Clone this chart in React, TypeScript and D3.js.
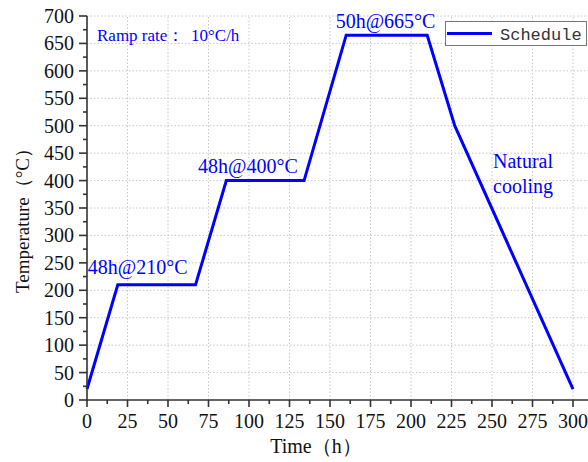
import React from "react";
import * as d3 from "d3";

const timeH = [0, 19, 67, 86, 134, 160, 210, 227, 300];
const tempC = [20, 210, 210, 400, 400, 665, 665, 500, 20];
const xTicks = [0, 25, 50, 75, 100, 125, 150, 175, 200, 225, 250, 275, 300];
const yTicks = [0, 50, 100, 150, 200, 250, 300, 350, 400, 450, 500, 550, 600, 650, 700];
const annotations = [
  { t: 0.5, v: 230, text: "48h@210°C" },
  { t: 68.5, v: 413, text: "48h@400°C" },
  { t: 153.5, v: 678, text: "50h@665°C" },
];
const seriesName = "Schedule";

export default function App() {
  const W = 588, H = 462;
  const x = d3.scaleLinear().domain([0, 300]).range([87, 573]);
  const y = d3.scaleLinear().domain([0, 700]).range([400, 16]);
  const xMax = 588;
  const data = timeH.map((t, i) => [t, tempC[i]] as [number, number]);
  const line = d3.line<[number, number]>().x(d => x(d[0])).y(d => y(d[1]));
  const xMinor = d3.range(12.5, 310, 25);
  const yMinor = d3.range(25, 700, 50);
  const xGrid = d3.range(25, 310, 25);
  const serif = "'Liberation Serif', 'Times New Roman', serif";
  const blue = "#0000ff";
  const axisCol = "#333";
  return (
    <svg width={W} height={H} style={{ position: "absolute", left: 0, top: 0, background: "#fff" }} fontFamily={serif}>
      <rect x={0} y={0} width={W} height={H} fill="#fff" />
      {/* grid */}
      <g stroke="#c8c8c8" strokeWidth={1} strokeDasharray="1.5,2">
        {xGrid.map(t => (
          <line key={"gx" + t} x1={x(t)} x2={x(t)} y1={y(0)} y2={y(700)} />
        ))}
        {yTicks.filter(v => v > 0).map(v => (
          <line key={"gy" + v} x1={x(0)} x2={xMax} y1={y(v)} y2={y(v)} />
        ))}
      </g>
      {/* series */}
      <path d={line(data) || ""} fill="none" stroke={blue} strokeWidth={3} strokeLinejoin="miter" />
      {/* axes */}
      <g stroke={axisCol} strokeWidth={1.6}>
        <line x1={x(0)} x2={xMax} y1={y(0)} y2={y(0)} />
        <line x1={x(0)} x2={x(0)} y1={y(0) + 0.8} y2={y(700)} />
        {xTicks.map(t => (
          <line key={"xt" + t} x1={x(t)} x2={x(t)} y1={y(0)} y2={y(0) + 7} />
        ))}
        {xMinor.map(t => (
          <line key={"xm" + t} x1={x(t)} x2={x(t)} y1={y(0)} y2={y(0) + 4} />
        ))}
        {yTicks.map(v => (
          <line key={"yt" + v} x1={x(0) - 8} x2={x(0)} y1={y(v)} y2={y(v)} />
        ))}
        {yMinor.map(v => (
          <line key={"ym" + v} x1={x(0) - 4} x2={x(0)} y1={y(v)} y2={y(v)} />
        ))}
      </g>
      {/* tick labels */}
      <g fontSize={20} fill="#111">
        {xTicks.map(t => (
          <text key={"xl" + t} x={x(t)} y={428} textAnchor="middle">{t}</text>
        ))}
        {yTicks.map(v => (
          <text key={"yl" + v} x={74} y={y(v)} textAnchor="end" dominantBaseline="central">{v}</text>
        ))}
      </g>
      {/* axis titles */}
      <text x={316} y={453} textAnchor="middle" fontSize={20} fill="#111">Time（h）</text>
      <text transform={`translate(29,216) rotate(-90)`} textAnchor="middle" fontSize={19} fill="#111">Temperature（°C）</text>
      {/* annotations */}
      <g fill={blue} fontSize={20}>
        {annotations.map(a => (
          <text key={a.text} x={x(a.t)} y={y(a.v)}>{a.text}</text>
        ))}
        <text x={493} y={168}>Natural</text>
        <text x={493} y={193}>cooling</text>
      </g>
      <g fill={blue} fontSize={17}>
        <text x={97} y={41}>Ramp rate：</text>
        <text x={191} y={41}>10°C/h</text>
      </g>
      {/* legend */}
      <rect x={445.5} y={21.5} width={141} height={24} fill="#fff" stroke="#777" strokeWidth={1} />
      <line x1={447} x2={492} y1={33.5} y2={33.5} stroke={blue} strokeWidth={3} />
      <text x={500} y={40} fontSize={17} fontFamily="'Liberation Mono', monospace" fill="#333">{seriesName}</text>
    </svg>
  );
}
